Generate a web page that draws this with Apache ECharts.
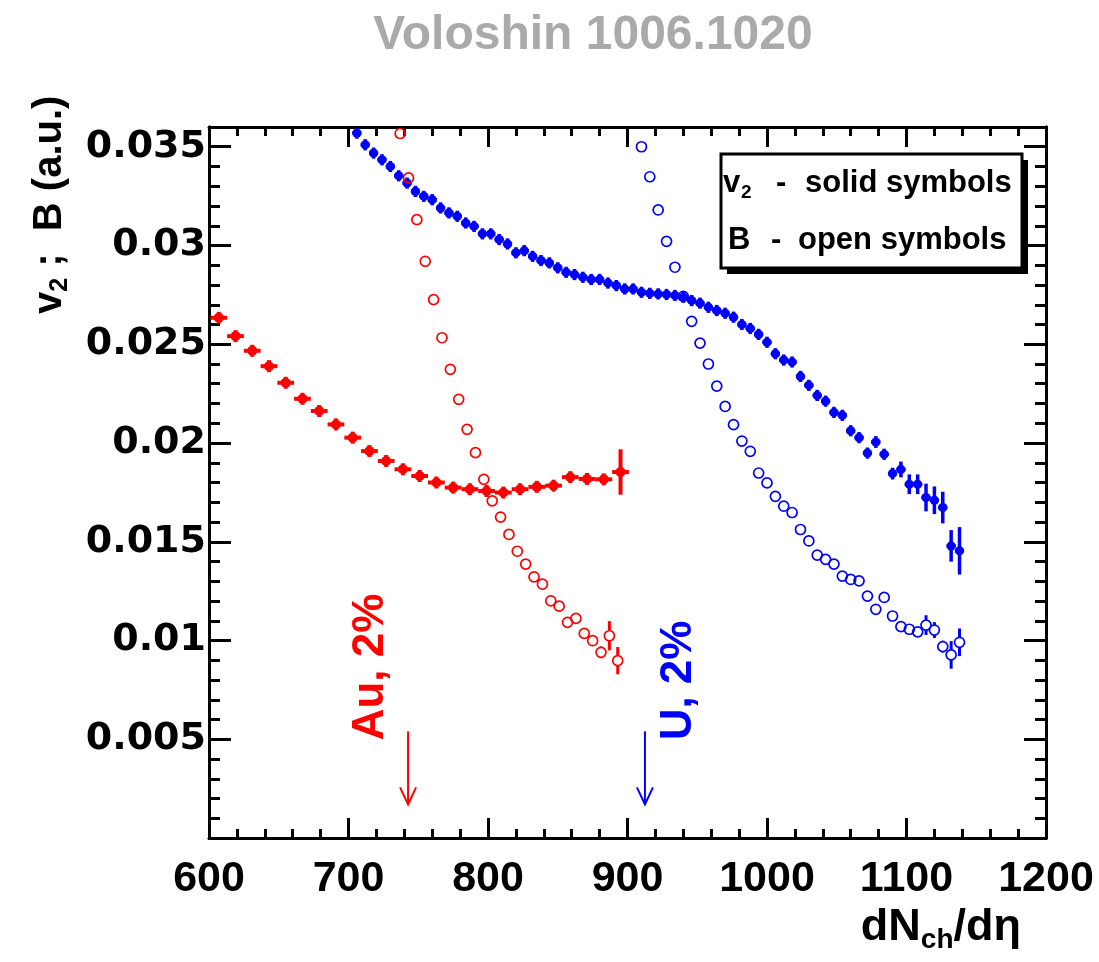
<!DOCTYPE html>
<html><head><meta charset="utf-8">
<script src="https://cdn.jsdelivr.net/npm/echarts@6.0.0/dist/echarts.min.js"></script>
<style>html,body{margin:0;padding:0;background:#fff}#c{width:1099px;height:962px}</style>
</head><body><div id="c"></div>
<script>
// ---- Data (dNch/deta, value, error) ----
const auV2X = [607,619,631,643,655,667,679,691,703,715,727,739,751,763,775,787,799,811,823,835,847,859,871,883,895];
const auV2Y = [0.02634,0.02541,0.02467,0.02389,0.02305,0.02224,0.02162,0.02094,0.02027,0.01959,0.01909,0.01867,0.01833,0.01800,0.01774,0.01766,0.01757,0.01749,0.01766,0.01778,0.01784,0.01827,0.01818,0.01816,0.01853];
const auV2Err = [0.00012,0.00012,0.00012,0.00012,0.00012,0.00012,0.00012,0.00012,0.00012,0.00012,0.00012,0.00012,0.00012,0.00012,0.00012,0.00012,0.00012,0.00015,0.00015,0.00015,0.00015,0.0002,0.0002,0.00025,0.00115];

const auBX = [737,743,749,755,761,767,773,779,785,791,797,803,809,815,821,827,833,839,845,851,857,863,869,875,881,887,893];
const auBY = [0.03567,0.03342,0.03131,0.0292,0.02726,0.02533,0.02373,0.02221,0.02069,0.01951,0.01816,0.01707,0.01625,0.01537,0.01452,0.01387,0.01322,0.01285,0.01201,0.01174,0.01092,0.01112,0.01036,0.00999,0.0094,0.01024,0.00898];
const auBErr = [0.0001,0.0001,0.0001,0.0001,0.0001,0.0001,0.0001,0.0001,0.0001,0.0001,0.0001,0.0001,0.0001,0.0001,0.0001,0.0001,0.0001,0.0001,0.0001,0.0001,0.0001,0.0001,0.00015,0.0002,0.0003,0.00074,0.00069];

const uV2X = [706,712,718,724,730,736,742,748,754,760,766,772,778,784,790,796,802,808,814,820,826,832,838,844,850,856,862,868,874,880,886,892,898,904,910,916,922,928,934,940,946,952,958,964,970,976,982,988,994,1000,1006,1012,1018,1024,1030,1036,1042,1048,1054,1060,1066,1072,1078,1084,1090,1096,1102,1108,1114,1120,1126,1132,1138];
const uV2Y = [0.03569,0.0351,0.03468,0.03434,0.034,0.03353,0.03316,0.03274,0.03249,0.03232,
  0.0319,0.03165,0.03148,0.03114,0.03097,0.03059,0.03059,0.0303,0.03008,0.02963,
  0.02974,0.02945,0.02924,0.02912,0.02887,0.02864,0.02853,0.02839,0.02828,0.02828,
  0.0281,0.02797,0.0278,0.0278,0.02763,0.02758,0.02755,0.02752,0.02747,0.02738,
  0.02721,0.02708,0.02687,0.02671,0.02657,0.02637,0.026,0.0258,0.0255,0.0251,
  0.02452,0.0242,0.0241,0.02337,0.02292,0.02241,0.02212,0.02155,0.0214,0.02062,
  0.02027,0.01949,0.02005,0.01943,0.01845,0.01866,0.01791,0.01791,0.01724,0.0171,
  0.01673,0.01479,0.01454];
const uV2Err = [0.0001,0.0001,0.0001,0.0001,0.0001,0.0001,0.0001,0.0001,0.0001,0.0001,
  0.0001,0.0001,0.0001,0.0001,0.0001,0.0001,0.0001,0.0001,0.0001,0.0001,
  0.0001,0.0001,0.0001,0.0001,0.0001,0.0001,0.0001,0.0001,0.0001,0.0001,
  0.0001,0.0001,0.0001,0.0001,0.0001,0.0001,0.0001,0.0001,0.0001,0.0001,
  0.0001,0.0001,0.0001,0.0001,0.0001,0.0001,0.0001,0.0001,0.0001,0.0001,
  0.00012,0.00012,0.00012,0.00012,0.00012,0.00012,0.00012,0.00012,0.00012,0.00012,
  0.0002,0.0002,0.0003,0.00025,0.0003,0.0004,0.0005,0.0005,0.0007,0.0007,
  0.0008,0.0008,0.0012];

const uBX = [910,916,922,928,934,940,946,952,958,964,970,976,982,988,994,1000,1006,1012,1018,1024,1030,1036,1042,1048,1054,1060,1066,1072,1078,1084,1090,1096,1102,1108,1114,1120,1126,1132,1138];
const uBY = [0.035,0.03348,0.0318,0.03021,0.0289,0.02742,0.02616,0.02506,0.024,0.02288,
  0.02185,0.02093,0.0201,0.01958,0.01848,0.01798,0.0173,0.0168,0.01648,0.01562,
  0.01504,0.01432,0.01411,0.01387,0.01326,0.01309,0.01302,0.01225,0.01158,0.01218,
  0.01124,0.0107,0.01057,0.01044,0.01078,0.01053,0.00969,0.00927,0.00991];
const uBErr = [0.0001,0.0001,0.0001,0.0001,0.0001,0.0001,0.0001,0.0001,0.0001,0.0001,
  0.0001,0.0001,0.0001,0.0001,0.0001,0.0001,0.0001,0.0001,0.0001,0.0001,
  0.0001,0.0001,0.0001,0.0001,0.0001,0.0001,0.0001,0.0001,0.0001,0.0001,
  0.0001,0.00015,0.0002,0.0002,0.0005,0.0004,0.0003,0.0007,0.0007];

// 2% centrality markers (dNch/deta) with arrow span in y
const centX = [742.7, 912.5];
const centYTop = [0.0054, 0.0054];
const centYBottom = [0.0017, 0.0017];
const centLabels = ['Au, 2%', 'U, 2%'];

const xTicks = [600, 1200, 100];
const yTicks = [0, 0.036, 0.005];

const RED = '#ff0000', BLUE = '#0000ff';
const FONT = '"Liberation Sans", Arial, sans-serif';

function zip(x, y, e) { return x.map((v, i) => [v, y[i], e[i]]); }

function solidRender(hw, r, lw) {
  return function (params, api) {
    const x = api.value(0), y = api.value(1), e = api.value(2);
    const c = api.coord([x, y]);
    const l = api.coord([x - hw, y]), rr = api.coord([x + hw, y]);
    const t = api.coord([x, y + e]), b = api.coord([x, y - e]);
    const color = api.visual('color');
    return { type: 'group', children: [
      { type: 'line', shape: { x1: l[0], y1: c[1], x2: rr[0], y2: c[1] }, style: { stroke: color, lineWidth: lw } },
      { type: 'line', shape: { x1: c[0], y1: Math.min(t[1], c[1] - r - 1), x2: c[0], y2: Math.max(b[1], c[1] + r + 1) }, style: { stroke: color, lineWidth: lw } },
      { type: 'circle', shape: { cx: c[0], cy: c[1], r: r }, style: { fill: color } }
    ]};
  };
}
function openRender(r) {
  return function (params, api) {
    const x = api.value(0), y = api.value(1), e = api.value(2);
    const c = api.coord([x, y]);
    const t = api.coord([x, y + e]), b = api.coord([x, y - e]);
    const color = api.visual('color');
    const ch = [];
    if (c[1] - t[1] > r + 0.5) {
      ch.push({ type: 'line', shape: { x1: c[0], y1: t[1], x2: c[0], y2: c[1] - r }, style: { stroke: color, lineWidth: 3 } });
      ch.push({ type: 'line', shape: { x1: c[0], y1: c[1] + r, x2: c[0], y2: b[1] }, style: { stroke: color, lineWidth: 3 } });
    }
    ch.push({ type: 'circle', shape: { cx: c[0], cy: c[1], r: r }, style: { fill: 'none', stroke: color, lineWidth: 1.7 } });
    return { type: 'group', children: ch };
  };
}
function arrowRender(params, api) {
  const i = params.dataIndex;
  const x = api.value(0);
  const t = api.coord([x, api.value(1)]);
  const b = api.coord([x, api.value(2)]);
  const color = i === 0 ? RED : BLUE;
  const dx = i === 0 ? -37 : 34;
  return { type: 'group', children: [
    { type: 'line', shape: { x1: t[0], y1: t[1], x2: b[0], y2: b[1] }, style: { stroke: color, lineWidth: 2 } },
    { type: 'polyline', shape: { points: [[b[0] - 8, b[1] - 17], [b[0], b[1]], [b[0] + 8, b[1] - 17]] }, style: { stroke: color, lineWidth: 2, fill: 'none' } },
    { type: 'text', x: t[0] + dx, y: t[1] + 9, rotation: Math.PI / 2,
      style: { text: centLabels[i], fill: color, font: 'bold 44px ' + FONT, align: 'left', verticalAlign: 'middle' } }
  ]};
}

const axisLineStyle = { color: '#000', width: 3 };
function xAx(pos, labels) {
  return {
    type: 'value', position: pos, min: xTicks[0], max: xTicks[1], interval: xTicks[2],
    axisLine: { show: true, onZero: false, lineStyle: axisLineStyle },
    axisTick: { show: true, inside: true, length: 20, lineStyle: { color: '#000', width: 3 } },
    minorTick: { show: true, splitNumber: 5, length: 9, lineStyle: { color: '#000', width: 3 } },
    splitLine: { show: false }, minorSplitLine: { show: false },
    axisLabel: labels ? { show: true, margin: 20, color: '#000', fontSize: 43, fontWeight: 'bold', fontFamily: FONT, formatter: v => String(v) } : { show: false }
  };
}
function yAx(pos, interval, len, labels) {
  return {
    type: 'value', position: pos, min: yTicks[0], max: yTicks[1], interval: interval,
    axisLine: { show: true, onZero: false, lineStyle: axisLineStyle },
    axisTick: { show: true, inside: true, length: len, lineStyle: { color: '#000', width: 3 } },
    splitLine: { show: false },
    axisLabel: labels ? {
      show: true, margin: 3, color: '#000', fontSize: 38, fontWeight: 'bold', fontFamily: '"DejaVu Sans", sans-serif',
      showMinLabel: false, showMaxLabel: false,
      formatter: v => (v > 0 && v < 0.0355) ? String(+v.toFixed(3)) : ''
    } : { show: false }
  };
}

const chart = echarts.init(document.getElementById('c'), null, { renderer: 'canvas' });
chart.setOption({
  animation: false,
  backgroundColor: '#fff',
  grid: { left: 209, right: 53, top: 127, bottom: 124, containLabel: false },
  xAxis: [xAx('bottom', true), xAx('top', false)],
  yAxis: [yAx('left', yTicks[2], 22, true), yAx('left', 0.001, 11, false), yAx('right', yTicks[2], 22, false), yAx('right', 0.001, 11, false)],
  series: [
    { type: 'custom', name: 'U v2', color: BLUE, clip: true, renderItem: solidRender(3.3, 4.6, 3.5), data: zip(uV2X, uV2Y, uV2Err), encode: { x: 0, y: 1 } },
    { type: 'custom', name: 'U B', color: BLUE, clip: true, renderItem: openRender(5), data: zip(uBX, uBY, uBErr), encode: { x: 0, y: 1 } },
    { type: 'custom', name: 'Au v2', color: RED, clip: true, renderItem: solidRender(6, 5, 4), data: zip(auV2X, auV2Y, auV2Err), encode: { x: 0, y: 1 } },
    { type: 'custom', name: 'Au B', color: RED, clip: true, renderItem: openRender(5), data: zip(auBX, auBY, auBErr), encode: { x: 0, y: 1 } },
    { type: 'custom', name: 'centrality', renderItem: arrowRender, data: centX.map((v, i) => [v, centYTop[i], centYBottom[i]]), encode: { x: 0, y: 1 } }
  ],
  graphic: [
    { type: 'text', x: 593, y: 36, style: { text: 'Voloshin 1006.1020', fill: '#aaaaaa', font: 'bold 48px ' + FONT, align: 'center', verticalAlign: 'middle' } },
    // y axis title
    { type: 'text', x: 50, y: 314, rotation: Math.PI / 2,
      style: { text: '{a|v}{b|2}{a| ;  B (a.u.)}', align: 'left', verticalAlign: 'middle',
        rich: { a: { fontSize: 40, fontWeight: 'bold', fontFamily: FONT, fill: '#000', lineHeight: 46 },
                b: { fontSize: 25, fontWeight: 'bold', fontFamily: FONT, fill: '#000', lineHeight: 22, verticalAlign: 'bottom' } } } },
    // x axis title
    { type: 'text', x: 1021, y: 928,
      style: { text: '{a|dN}{b|ch}{a|/dη}', align: 'right', verticalAlign: 'middle',
        rich: { a: { fontSize: 45, fontWeight: 'bold', fontFamily: FONT, fill: '#000', lineHeight: 52 },
                b: { fontSize: 28, fontWeight: 'bold', fontFamily: FONT, fill: '#000', lineHeight: 26, verticalAlign: 'bottom' } } } },
    // legend box
    { type: 'rect', shape: { x: 727, y: 160, width: 301, height: 114 }, style: { fill: '#000' } },
    { type: 'rect', shape: { x: 721, y: 154, width: 301, height: 114 }, style: { fill: '#fff', stroke: '#000', lineWidth: 3 } },
    { type: 'text', x: 723, y: 183, style: { text: 'v', fill: '#000', font: 'bold 31px ' + FONT, align: 'left', verticalAlign: 'middle' } },
    { type: 'text', x: 741, y: 193, style: { text: '2', fill: '#000', font: 'bold 19px ' + FONT, align: 'left', verticalAlign: 'middle' } },
    { type: 'text', x: 776, y: 183, style: { text: '-', fill: '#000', font: 'bold 31px ' + FONT, align: 'left', verticalAlign: 'middle' } },
    { type: 'text', x: 805, y: 183, style: { text: 'solid symbols', fill: '#000', font: 'bold 31px ' + FONT, align: 'left', verticalAlign: 'middle' } },
    { type: 'text', x: 728, y: 240, style: { text: 'B', fill: '#000', font: 'bold 31px ' + FONT, align: 'left', verticalAlign: 'middle' } },
    { type: 'text', x: 771, y: 240, style: { text: '-', fill: '#000', font: 'bold 31px ' + FONT, align: 'left', verticalAlign: 'middle' } },
    { type: 'text', x: 798, y: 240, style: { text: 'open symbols', fill: '#000', font: 'bold 31px ' + FONT, align: 'left', verticalAlign: 'middle' } }
  ]
});
</script>
</body></html>
